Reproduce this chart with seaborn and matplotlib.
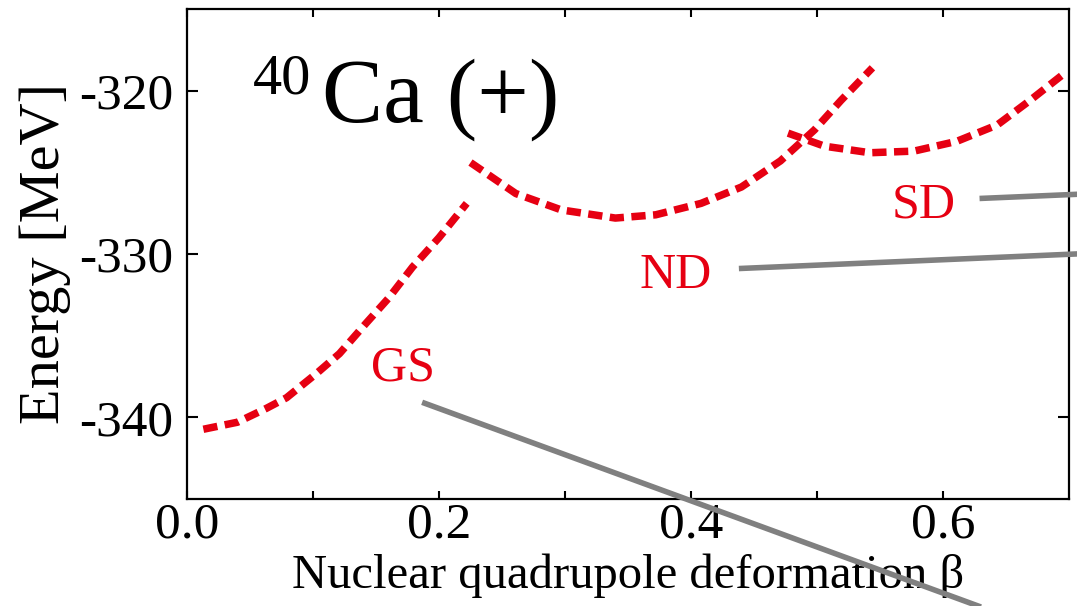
import matplotlib
matplotlib.use("Agg")
import matplotlib.pyplot as plt
import seaborn as sns
import numpy as np

# ---- data ----
gs_beta = [0.013, 0.040, 0.063, 0.079, 0.103, 0.121, 0.142, 0.160, 0.179, 0.200, 0.222]
gs_energy = [-340.73, -340.3, -339.45, -338.8, -337.3, -336.1, -334.25, -332.7, -330.8, -329.0, -326.9]

nd_beta = [0.225, 0.261, 0.297, 0.340, 0.372, 0.408, 0.440, 0.471, 0.498, 0.519, 0.544]
nd_energy = [-324.4, -326.3, -327.3, -327.8, -327.6, -326.9, -325.9, -324.3, -322.4, -320.6, -318.6]

sd_beta = [0.477, 0.506, 0.542, 0.577, 0.611, 0.643, 0.669, 0.697]
sd_energy = [-322.6, -323.4, -323.8, -323.7, -323.1, -322.1, -320.6, -318.9]

state_labels = ["GS", "ND", "SD"]
label_beta = [0.1715, 0.3877, 0.585]
label_energy = [-337.74, -332.11, -327.77]

# pointer lines (start, end) in data coordinates
ptr_beta = [(0.1866, 0.75), (0.438, 0.75), (0.629, 0.75)]
ptr_energy = [(-339.08, -355.0), (-330.89, -329.85), (-326.6, -326.2)]

xticks = [0.0, 0.2, 0.4, 0.6]
xminor = [0.1, 0.3, 0.5]
yticks = [-340, -330, -320]

sns.set_theme(style="white")
plt.rcParams['font.family'] = ['Liberation Serif', 'DejaVu Serif']
plt.rcParams['axes.unicode_minus'] = False
plt.rcParams['text.color'] = 'black'
plt.rcParams['axes.labelcolor'] = 'black'

red = "#e60012"
gray = "#808080"

fig = plt.figure(figsize=(10.77, 6.06), dpi=100)
ax = fig.add_axes([187/1077, 1-499/606, (1069-187)/1077, (499-9)/606])

dash = (0, (1.9, 1.0))
for bx, ey in [(gs_beta, gs_energy), (nd_beta, nd_energy), (sd_beta, sd_energy)]:
    sns.lineplot(x=bx, y=ey, ax=ax, color=red, linewidth=5.4, linestyle=dash,
                 sort=False, estimator=None, dash_capstyle='butt')

for (x0, x1), (y0, y1) in zip(ptr_beta, ptr_energy):
    ax.plot([x0, x1], [y0, y1], color=gray, linewidth=4.0, clip_on=False,
            solid_capstyle='butt', zorder=5)

for lab, bx, ey in zip(state_labels, label_beta, label_energy):
    ax.text(bx, ey, lab, color=red, fontsize=36, ha='center', va='baseline')

ax.set_xlim(0.0, 0.7)
ax.set_ylim(-345, -315)
ax.set_xticks(xticks)
ax.set_xticklabels([f"{v:.1f}" for v in xticks])
ax.set_xticks(xminor, minor=True)
ax.set_yticks(yticks)
ax.set_yticklabels([str(v) for v in yticks])

ax.tick_params(axis='x', which='both', direction='in', length=8*0.72, width=1.5,
               top=True, bottom=True, labelsize=37, pad=2, colors='black')
ax.tick_params(axis='y', which='both', direction='in', length=11*0.72, width=1.5,
               left=True, right=True, labelsize=37, pad=10, colors='black')
for s in ax.spines.values():
    s.set_color('black')
    s.set_linewidth(1.6)

ax.set_xlabel("Nuclear quadrupole deformation β", fontsize=35, labelpad=4, color='black')
ax.set_ylabel("Energy [MeV]", fontsize=42, labelpad=6, color='black')

ax.text(253/1077, 1-93/606, "40", transform=fig.transFigure, fontsize=42,
        ha='left', va='baseline', color='black')
ax.text(322/1077, 1-122/606, "Ca (+)", transform=fig.transFigure, fontsize=66,
        ha='left', va='baseline', color='black')

fig.savefig("out.png", dpi=100)
